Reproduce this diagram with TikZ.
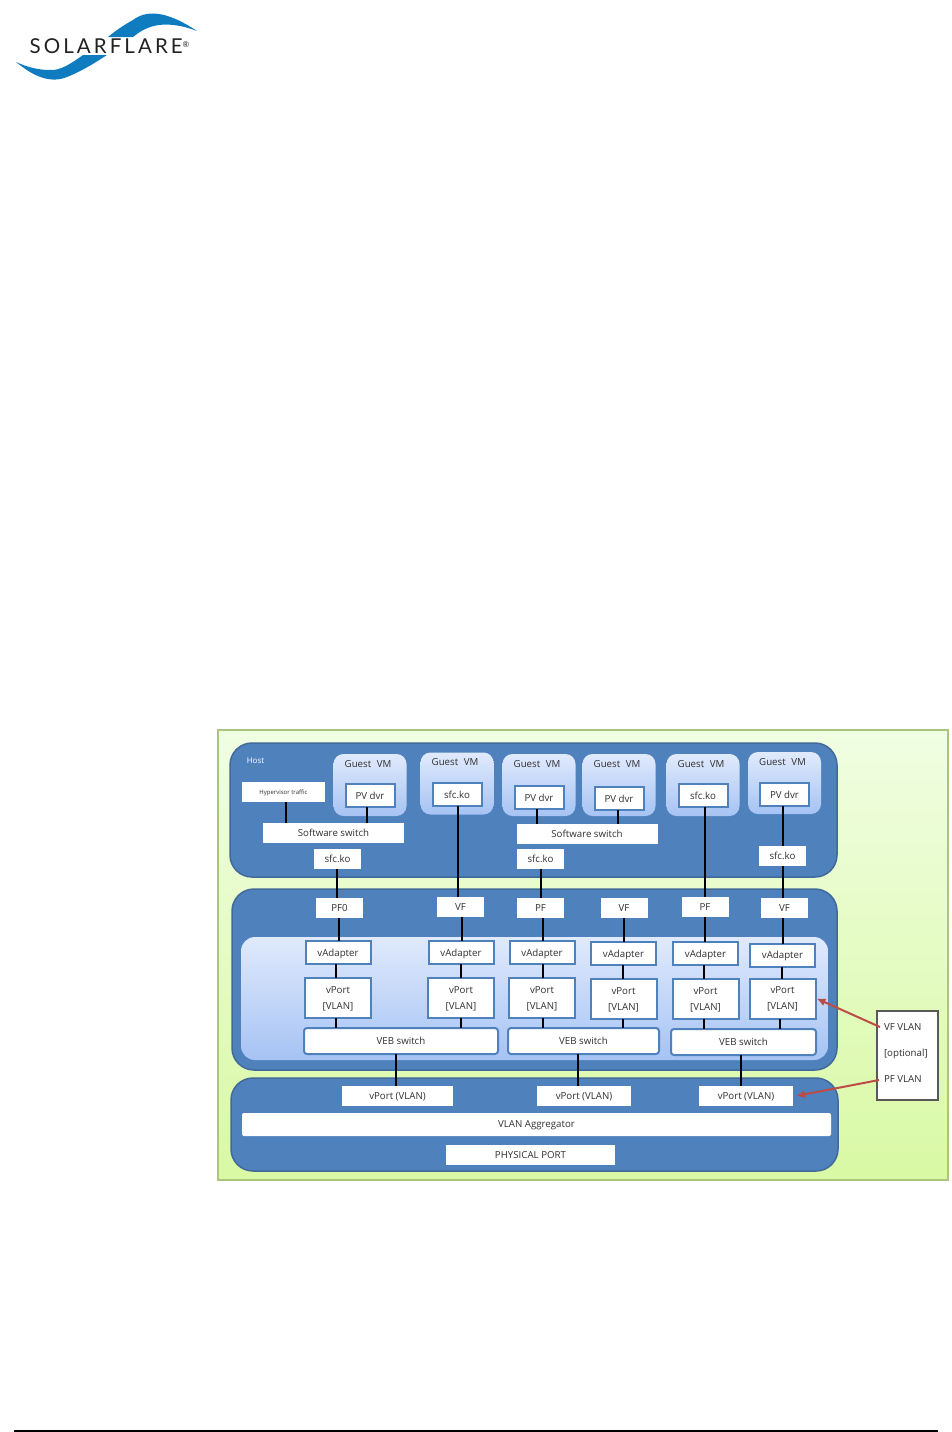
\documentclass[tikz,border=0pt]{standalone}
\usepackage{fontspec}
\setmainfont{Open Sans}
\newfontfamily\logofont[LetterSpace=15]{Lato}
\usetikzlibrary{arrows.meta,positioning}
\definecolor{Ink}{HTML}{303030}
\definecolor{PanelBlue}{HTML}{4F81BD}
\definecolor{PanelEdge}{HTML}{41699A}
\definecolor{SoftTop}{HTML}{E0EAFC}
\definecolor{SoftEnd}{HTML}{A6C3F4}
\definecolor{LimeTop}{HTML}{F0FEE2}
\definecolor{LimeEnd}{HTML}{D9F9A4}
\definecolor{LimeEdge}{HTML}{ABC67C}
\definecolor{Flare}{HTML}{0F7CC0}
\definecolor{NoteRed}{HTML}{BE4B48}
\begin{document}
\begin{tikzpicture}[
  x=1pt,y=-1pt,
  panel/.style={rounded corners=22pt,draw=PanelEdge,fill=PanelBlue,line width=1.5pt},
  softbox/.style={top color=SoftTop,bottom color=SoftEnd,draw=none},
  vm/.style={softbox,rounded corners=10pt,minimum width=73pt,minimum height=62pt,inner sep=0pt,outer sep=0pt},
  caption/.style={font=\fontsize{9.7}{11}\selectfont,text=Ink,inner sep=0pt,outer sep=0pt,text depth=0pt},
  tag/.style={fill=white,caption,minimum width=47pt,minimum height=20pt},
  framed/.style={fill=white,draw=PanelBlue,line width=2pt,caption,align=center},
  dvr/.style={framed,minimum width=49pt,minimum height=23pt},
  adapter/.style={framed,minimum width=65pt,minimum height=23pt},
  vport/.style={framed,minimum width=66pt,minimum height=40pt,font=\fontsize{9.7}{16}\selectfont},
  veb/.style={framed,rounded corners=3pt,minimum height=26pt},
  uplink/.style={fill=white,caption,minimum width=94pt,minimum height=20pt},
  link/.style={draw=black,line width=2.4pt},
  callout/.style={-{Latex[length=9pt,width=8pt]},draw=NoteRed,line width=2pt},
  swoosh/.style={fill=Flare,draw=none}
]
\useasboundingbox (0,0) rectangle (952,1432);
% logo
\path[swoosh] (197,31) .. controls (173,15) and (150,7) .. (133,20) .. controls (122,26) and (114,32) .. (108,37) -- (133,37) .. controls (143,29) and (160,17) .. (197,31) -- cycle;
\path[swoosh] (16,62) .. controls (33,76) and (50,84) .. (67,77) .. controls (80,72) and (95,63) .. (107,55) -- (83,55) .. controls (72,63) and (60,71) .. (50,70) .. controls (38,70) and (27,67) .. (16,62) -- cycle;
\node[inner sep=0pt,outer sep=0pt,text=Ink!70!black] (brand) at (109.5,46.5) {\logofont\fontsize{20.5}{20.5}\selectfont SOLARFLARE\raisebox{6pt}{\fontsize{8}{8}\selectfont ®}};
% footer
\draw[black,line width=1.3pt] (14,1431) -- (938,1431);
% background and panels
\path[top color=LimeTop,bottom color=LimeEnd,draw=LimeEdge,line width=1.5pt] (218,730) rectangle (948,1180);
\path[panel] (230,743) rectangle (837,877);
\path[panel] (232,889) rectangle (837,1070);
\path[panel] (231,1078) rectangle (838,1171);
\path[softbox,rounded corners=14pt] (241,937) rectangle (828,1060);
% guests
\foreach \n/\x/\y in {a/370/785,b/457/783.5,c/539/785,d/619/785,e/703/785,f/784.5/783}{
  \node[vm] (vm\n) at (\x,\y) {};
  \node[caption,below=6pt of vm\n.north,xshift=-2pt] (title\n) {Guest\hspace{3pt} VM};
}
\node[caption,text=white,font=\fontsize{8}{10}\selectfont] (host) at (255.5,761) {Host};
\node[dvr,below=30pt of vma.north] (pva) {PV dvr};
\node[dvr,below=30.5pt of vmb.north] (sfb) {sfc.ko};
\node[dvr,below=32pt of vmc.north] (pvc) {PV dvr};
\node[dvr,below=33pt of vmd.north] (pvd) {PV dvr};
\node[dvr,below=30pt of vme.north] (sfe) {sfc.ko};
\node[dvr,below=31pt of vmf.north] (pvf) {PV dvr};
\node[fill=white,caption,minimum width=83pt,minimum height=20pt,font=\fontsize{6}{7}\selectfont] (hyp) at (283.5,792) {Hypervisor traffic};
\node[tag,minimum width=141pt] (swa) at (333.5,833) {Software switch};
\node[tag,minimum width=141pt] (swb) at (587,834) {Software switch};
\node[tag] (koa) at (337.5,859) {sfc.ko};
\node[tag] (kob) at (540.5,859) {sfc.ko};
\node[tag] (kof) at (782.5,856) {sfc.ko};
% functions
\node[tag] (pfa) at (339.5,908) {PF0};
\node[tag] (vfb) at (460.5,907) {VF};
\node[tag] (pfc) at (540.5,908) {PF};
\node[tag] (vfd) at (624,908) {VF};
\node[tag] (pfe) at (705,907) {PF};
\node[tag] (vff) at (784.5,908) {VF};
% adapters and ports
\foreach \n/\x/\y in {a/338/952.5,b/461/952.5,c/542/952.5,d/623.5/953.5,e/705.5/953.5,f/782.5/955}{
  \node[adapter] (ad\n) at (\x,\y) {vAdapter};
}
\node[vport,below=14pt of ada] (vpa) {vPort\\{[VLAN]}};
\node[vport,below=14pt of adb] (vpb) {vPort\\{[VLAN]}};
\node[vport,below=14pt of adc] (vpc) {vPort\\{[VLAN]}};
\node[vport,below=14pt of add] (vpd) {vPort\\{[VLAN]}};
\node[vport,below=14pt of ade] (vpe) {vPort\\{[VLAN]}};
\node[vport,below=12pt of adf] (vpf) {vPort\\{[VLAN]}};
\node[veb,minimum width=194pt] (veba) at (401,1041) {VEB switch};
\node[veb,minimum width=151pt] (vebb) at (583.5,1041) {VEB switch};
\node[veb,minimum width=145pt] (vebc) at (743.5,1042) {VEB switch};
% physical side
\node[uplink,minimum width=111pt] (upa) at (397.5,1096) {vPort (VLAN)};
\node[uplink] (upb) at (584,1096) {vPort (VLAN)};
\node[uplink] (upc) at (746,1096) {vPort (VLAN)};
\node[fill=white,caption,rounded corners=2pt,minimum width=589pt,minimum height=23pt] (agg) at (536.5,1124.5) {VLAN Aggregator};
\node[fill=white,caption,minimum width=169pt,minimum height=20pt] (phy) at (530.5,1155) {PHYSICAL PORT};
% links
\foreach \a/\b/\x in {hyp/swa/286,pva/swa/367,pvc/swb/537,pvd/swb/618,sfb/vfb/458,sfe/pfe/705,pvf/kof/783,kof/vff/783,koa/pfa/337,kob/pfc/541,pfa/ada/339,vfb/adb/462,pfc/adc/543,vfd/add/624,pfe/ade/705,vff/adf/783,ada/vpa/336,adb/vpb/461,adc/vpc/543,add/vpd/623,ade/vpe/704,adf/vpf/782,vpa/veba/336,vpb/veba/461,vpc/vebb/543,vpd/vebb/623,vpe/vebc/704,vpf/vebc/780,veba/upa/396,vebb/upb/578,vebc/upc/741}{
  \draw[link] (\x,0 |- \a.south) -- (\x,0 |- \b.north);
}
% note
\node[fill=white,draw=Ink!80,line width=1.2pt,minimum width=61pt,minimum height=89pt,inner sep=0pt,outer sep=0pt] (note) at (907.5,1055.5) {};
\node[caption,align=left,font=\fontsize{9.7}{26}\selectfont,right=7pt of note.west,yshift=2pt] (notetext) {VF VLAN\\{[optional]}\\PF VLAN};
\draw[callout] ([xshift=3pt,yshift=28.5pt]note.west) -- ([xshift=1pt]vpf.east);
\draw[callout] ([xshift=2pt,yshift=-24.5pt]note.west) -- ([xshift=3pt]upc.east);
\end{tikzpicture}
\end{document}
